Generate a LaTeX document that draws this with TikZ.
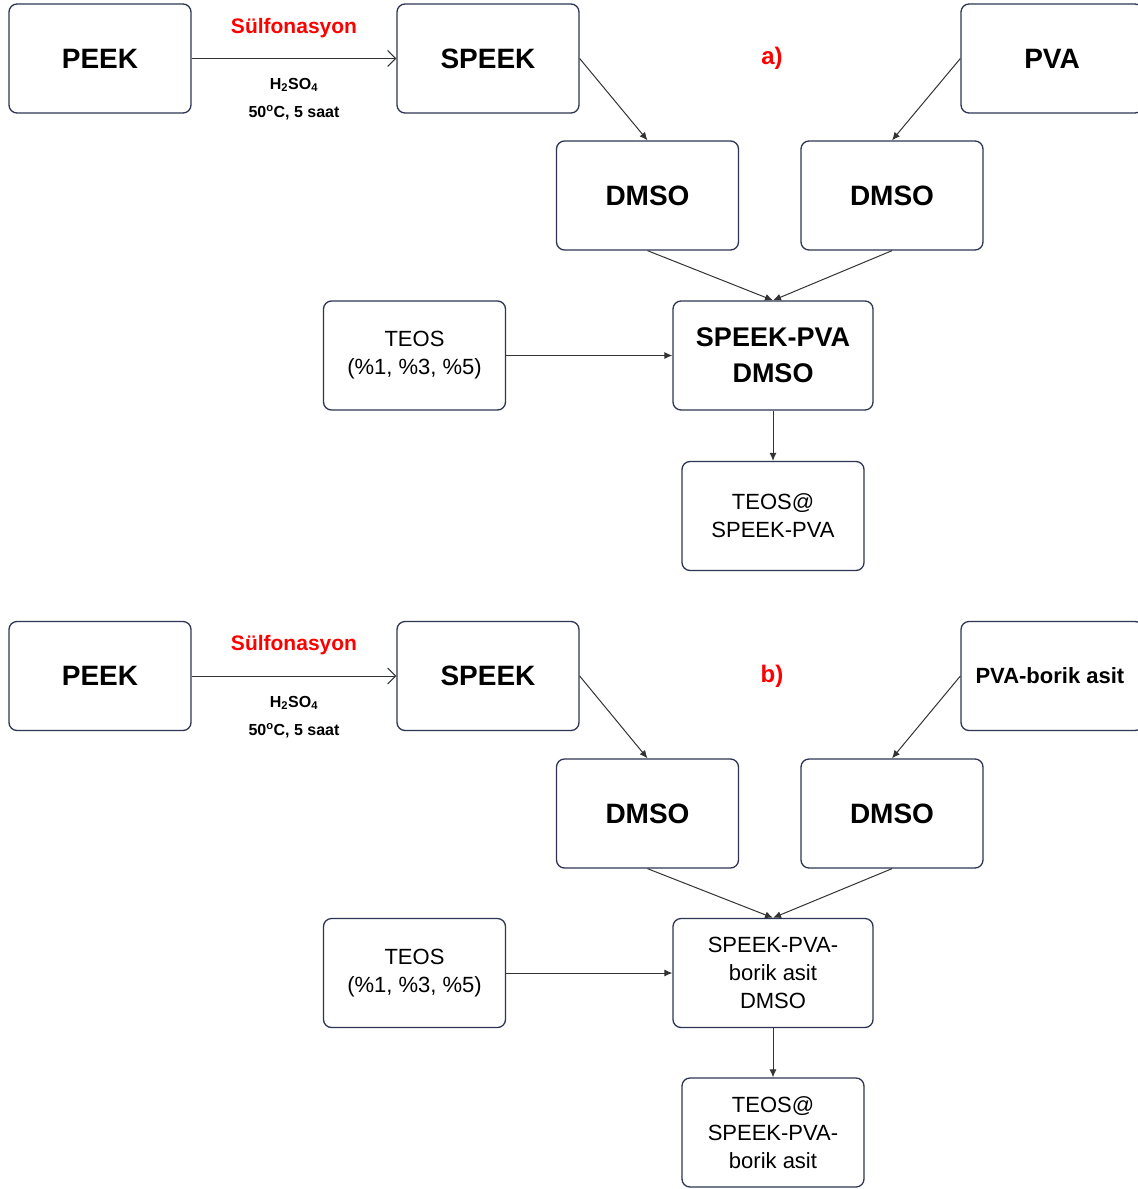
\documentclass[tikz,border=0pt]{standalone}
\usepackage{fontspec}
\setmainfont{Liberation Sans}
\usetikzlibrary{arrows.meta}
\definecolor{boxline}{HTML}{2E3552}
\definecolor{arrowc}{HTML}{333333}
\begin{document}
\begin{tikzpicture}[x=1pt,y=-1pt,
  box/.style={draw=boxline, line width=1.3pt, rounded corners=8pt, minimum width=182pt, minimum height=109pt, align=center, inner sep=0pt, fill=white},
  wbox/.style={box, minimum width=200pt},
  big/.style={font=\fontsize{28}{32}\selectfont\bfseries},
  bigm/.style={font=\fontsize{27}{36}\selectfont\bfseries},
  mid/.style={font=\fontsize{22}{28}\selectfont},
  midb/.style={font=\fontsize{22}{28}\selectfont\bfseries},
  redlbl/.style={text=red, font=\fontsize{21}{24}\selectfont\bfseries},
  panel/.style={text=red, font=\fontsize{24}{28}\selectfont\bfseries},
  cond/.style={font=\fontsize{16}{20}\selectfont\bfseries},
  arr/.style={draw=arrowc, line width=1pt, -{Latex[length=8pt,width=7pt]}},
  openarr/.style={draw=arrowc, line width=1pt, -{Straight Barb[length=8pt,width=16pt]}}
]
\useasboundingbox (0,0) rectangle (1138,1189);
\clip (0,0) rectangle (1138,1189);
\fill[white] (0,0) rectangle (1138,1189);

% ---------- panel a ----------
\node[box,big] (peekA) at (100,58.5) {PEEK};
\node[box,big] (speekA) at (488,58.5) {SPEEK};
\node[box,big] (pvaA) at (1052,58.5) {PVA};
\node[box,big] (dmso1A) at (647.5,195.5) {DMSO};
\node[box,big] (dmso2A) at (892,195.5) {DMSO};
\node[box,mid] (teosA) at (414.5,355.5) {TEOS\\(\%1, \%3, \%5)};
\node[wbox,bigm] (mixA) at (773,355.5) {SPEEK-PVA\\DMSO};
\node[box,mid] (prodA) at (773,516) {TEOS@\\SPEEK-PVA};
\node[redlbl] (sulfA) at (294,28) {Sülfonasyon};
\node[cond] (h2so4A) at (294,85) {H\textsubscript{2}SO\textsubscript{4}};
\node[cond] (tempA) at (294,113) {50\textsuperscript{o}C, 5 saat};
\node[panel] (labA) at (772,58) {a)};

\draw[openarr] (peekA) -- (speekA);
\draw[arr] (speekA.east) -- (dmso1A.north);
\draw[arr] (pvaA.west) -- (dmso2A.north);
\draw[arr] (dmso1A.south) -- (mixA.north);
\draw[arr] (dmso2A.south) -- (mixA.north);
\draw[arr] (teosA) -- (mixA);
\draw[arr] (mixA) -- (prodA);

% ---------- panel b ----------
\node[box,big] (peekB) at (100,676) {PEEK};
\node[box,big] (speekB) at (488,676) {SPEEK};
\node[box,midb] (pvaB) at (1052,676) {};
\node[midb,anchor=west] (pvaBt) at (972,676) {PVA-borik asit};
\node[box,big] (dmso1B) at (647.5,813.5) {DMSO};
\node[box,big] (dmso2B) at (892,813.5) {DMSO};
\node[box,mid] (teosB) at (414.5,973) {TEOS\\(\%1, \%3, \%5)};
\node[wbox,mid] (mixB) at (773,973) {SPEEK-PVA-\\borik asit\\DMSO};
\node[box,mid] (prodB) at (773,1132.5) {TEOS@\\SPEEK-PVA-\\borik asit};
\node[redlbl] (sulfB) at (294,645) {Sülfonasyon};
\node[cond] (h2so4B) at (294,703) {H\textsubscript{2}SO\textsubscript{4}};
\node[cond] (tempB) at (294,731) {50\textsuperscript{o}C, 5 saat};
\node[panel] (labB) at (772,676) {b)};

\draw[openarr] (peekB) -- (speekB);
\draw[arr] (speekB.east) -- (dmso1B.north);
\draw[arr] (pvaB.west) -- (dmso2B.north);
\draw[arr] (dmso1B.south) -- (mixB.north);
\draw[arr] (dmso2B.south) -- (mixB.north);
\draw[arr] (teosB) -- (mixB);
\draw[arr] (mixB) -- (prodB);
\end{tikzpicture}
\end{document}
